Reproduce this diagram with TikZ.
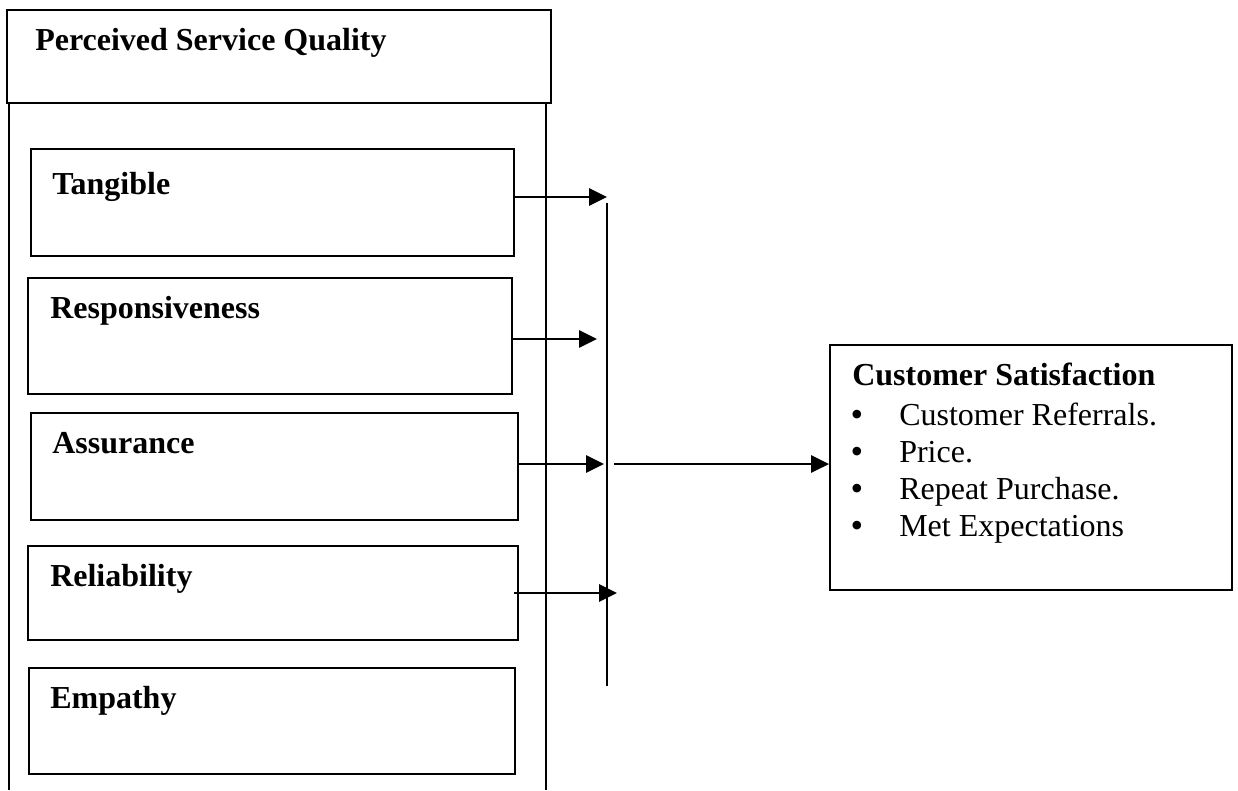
\documentclass[tikz,border=0pt]{standalone}
\usepackage{fontspec}
\setmainfont{Liberation Serif}
\usetikzlibrary{arrows.meta,fit}
\begin{document}
\begin{tikzpicture}[x=0.75pt,y=-0.75pt,
  box/.style={draw,line width=1.4pt,inner sep=0pt},
  lbl/.style={anchor=base west,inner sep=0pt,font=\fontsize{24}{28}\selectfont\bfseries},
  item/.style={anchor=base west,inner sep=0pt,font=\fontsize{24}{28}\selectfont},
  dot/.style={anchor=base,inner sep=0pt,font=\fontsize{27}{27}\selectfont},
  arr/.style={line width=1.4pt,-{Triangle[length=13.5pt,width=13pt]}},
  frame/.style={line width=1.4pt}
]
\useasboundingbox (0,0) rectangle (1238,790);

% top title box and outer frame
\node[box,fit={(7,10)(551,103)}] (psq) {};
\node[lbl] (psqt) at (35,50) {Perceived Service Quality};
\coordinate (fl1) at (9,103);  \coordinate (fl2) at (9,790);
\coordinate (fr1) at (546,103); \coordinate (fr2) at (546,790);
\draw[frame] (fl1) -- (fl2);
\draw[frame] (fr1) -- (fr2);

% dimension boxes
\node[box,fit={(31,149)(514,256)}] (tang) {};
\node[lbl] (tangt) at (52,194) {Tangible};
\node[box,fit={(28,278)(512,394)}] (resp) {};
\node[lbl] (respt) at (50,318) {Responsiveness};
\node[box,fit={(31,413)(518,520)}] (assu) {};
\node[lbl] (assut) at (52,453) {Assurance};
\node[box,fit={(28,546)(518,640)}] (reli) {};
\node[lbl] (relit) at (50,586) {Reliability};
\node[box,fit={(29,668)(515,774)}] (empa) {};
\node[lbl] (empat) at (50,708) {Empathy};

% collecting bar
\coordinate (bt) at (607,203);
\coordinate (bb) at (607,686);
\draw[frame] (bt) -- (bb);

% arrows into the bar
\coordinate (a1) at (607,197);
\draw[arr] (tang.east |- a1) -- (a1);
\coordinate (a2) at (597,339);
\draw[arr] (resp.east |- a2) -- (a2);
\coordinate (a3) at (604,464);
\draw[arr] (assu.east |- a3) -- (a3);
\coordinate (a4s) at (514,593);
\coordinate (a4) at (617,593);
\draw[arr] (a4s) -- (a4);

% customer satisfaction box
\node[box,fit={(830,345)(1232,590)}] (cs) {};
\node[lbl] (cst) at (852,385) {Customer Satisfaction};
\node[dot] (b1) at (857,426) {•};
\node[item] (i1) at (899,425) {Customer Referrals.};
\node[dot] (b2) at (857,463) {•};
\node[item] (i2) at (899,462) {Price.};
\node[dot] (b3) at (857,500) {•};
\node[item] (i3) at (899,499) {Repeat Purchase.};
\node[dot] (b4) at (857,537) {•};
\node[item] (i4) at (899,536) {Met Expectations};

% output arrow
\coordinate (o1) at (614,464);
\draw[arr] (o1) -- (cs.west |- o1);
\end{tikzpicture}
\end{document}
